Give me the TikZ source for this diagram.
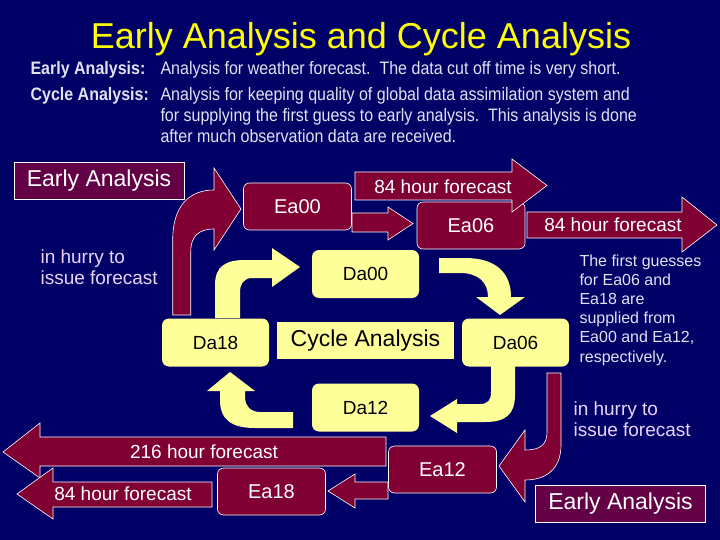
\documentclass[tikz,border=0pt]{standalone}
\usepackage{fontspec}
\setmainfont{Liberation Sans}
\newfontfamily\narrowfont[FakeStretch=0.89]{Liberation Sans}

\definecolor{bgnavy}{RGB}{0,0,102}
\definecolor{eamaroon}{RGB}{128,0,51}
\definecolor{eapurple}{RGB}{100,0,70}
\definecolor{dayellow}{RGB}{255,255,153}
\definecolor{ttlyellow}{RGB}{255,255,0}
\definecolor{hurrypink}{RGB}{235,210,250}
\definecolor{desctext}{RGB}{225,225,240}

\tikzset{
  eabox/.style={draw=white,line width=0.6pt,fill=eamaroon,rounded corners=6pt,
    minimum width=108pt,minimum height=47pt,text=white,font=\fontsize{20}{24}\selectfont},
  dabox/.style={fill=dayellow,rounded corners=7pt,minimum width=107pt,
    minimum height=48pt,font=\fontsize{19}{23}\selectfont},
  ealabel/.style={draw=white,line width=0.6pt,fill=eapurple,minimum width=170pt,
    minimum height=37pt,text=white,font=\fontsize{23}{27}\selectfont},
  fcarrow/.style={draw=white,line width=0.6pt,fill=eamaroon},
  cyarrow/.style={fill=dayellow},
  fctext/.style={text=white,font=\fontsize{19}{23}\selectfont},
  hurry/.style={text=hurrypink,align=left,anchor=west,font=\fontsize{19}{21}\selectfont},
  desc/.style={text=desctext,anchor=base west,font=\narrowfont\fontsize{18}{21}\selectfont},
  descterm/.style={desc,font=\narrowfont\bfseries\fontsize{18}{21}\selectfont}
}

\begin{document}
\begin{tikzpicture}[x=1pt,y=-1pt]
    \fill[bgnavy] (0,0) rectangle (720,540);

    \node (title) at (361,49) [anchor=base,text=ttlyellow,font=\fontsize{36}{40}\selectfont] {Early Analysis and Cycle Analysis};

    \node (eaterm) at (27,75) [descterm] {Early Analysis:};
    \node (eadef) at (157,75) [desc] {Analysis for weather forecast.\ \ The data cut off time is very short.};
    \node (cyterm) at (27,101) [descterm] {Cycle Analysis:};
    \node (cydefA) at (157,101) [desc] {Analysis for keeping quality of global data assimilation system and};
    \node (cydefB) at (157,122) [desc] {for supplying the first guess to early analysis.\ \ This analysis is done};
    \node (cydefC) at (157,143) [desc] {after much observation data are received.};

    % cycle analysis
    \fill[cyarrow] (215,318) -- (215,285) .. controls (215,266) and (226,260) .. (245,260)
      -- (272,260) -- (272,248) -- (300,267) -- (272,287) -- (272,278) -- (252,278)
      .. controls (244,278) and (240,284) .. (240,292) -- (240,318) -- cycle;
    \fill[cyarrow] (439,258) -- (465,258) .. controls (495,258) and (511,272) .. (511,297)
      -- (525,297) -- (500,315) -- (476,297) -- (488,297)
      .. controls (488,282) and (478,273) .. (460,273) -- (439,273) -- cycle;
    \fill[cyarrow] (515,366) -- (515,395) .. controls (515,415) and (505,422) .. (485,422)
      -- (457,422) -- (457,433) -- (430,416) -- (457,399) -- (457,404) -- (480,404)
      .. controls (488,404) and (491,400) .. (491,392) -- (491,366) -- cycle;
    \fill[cyarrow] (220,391) -- (220,400) .. controls (220,420) and (232,428) .. (255,428)
      -- (293,428) -- (293,412) -- (260,412) .. controls (250,412) and (245,405) .. (245,398)
      -- (245,391) -- (255,391) -- (230,372) -- (207,391) -- cycle;

    \node (da00) at (365.5,274) [dabox] {Da00};
    \node (da06) at (515.5,342.5) [dabox] {Da06};
    \node (da12) at (365.5,407.5) [dabox] {Da12};
    \node (da18) at (215.5,342.5) [dabox] {Da18};
    \node (cycle) at (365.5,340.5) [fill=dayellow,minimum width=177pt,minimum height=37pt,
      font=\fontsize{23}{27}\selectfont] {Cycle Analysis};

    % early analysis
    \draw[fcarrow] (172.7,315) -- (172.7,240) .. controls (172.7,205) and (190,190) .. (214,190)
      -- (214,168) -- (241,209) -- (214,250) -- (214,229)
      .. controls (198,229) and (190.7,237) .. (190.7,252) -- (190.7,315) -- cycle;
    \draw[fcarrow] (547,373) -- (561,373) -- (561,445) .. controls (561,470) and (545,480) .. (525,480)
      -- (525,502) -- (499,466) -- (525,430) -- (525,450)
      .. controls (540,450) and (547,445) .. (547,432) -- cycle;

    \node (ea00) at (297.5,206.5) [eabox] {Ea00};
    \node (ea06) at (471,225.5) [eabox] {Ea06};
    \node (ea12) at (442.5,469.5) [eabox] {Ea12};
    \node (ea18) at (271.5,491.5) [eabox] {Ea18};

    \draw[fcarrow] (355,172) -- (512,172) -- (512,159) -- (547,185.5) -- (512,212) -- (512,200)
      -- (355,200) -- cycle;
    \draw[fcarrow] (352,213) -- (388,213) -- (388,207) -- (413,223.5) -- (388,240) -- (388,232)
      -- (352,232) -- cycle;
    \draw[fcarrow] (527,212) -- (682,212) -- (682,197) -- (717,225) -- (682,252) -- (682,238)
      -- (527,238) -- cycle;
    \draw[fcarrow] (386,437) -- (40,437) -- (40,423) -- (3,452) -- (40,478) -- (40,466)
      -- (386,466) -- cycle;
    \draw[fcarrow] (212,482) -- (53,482) -- (53,468) -- (17,494) -- (53,519) -- (53,507)
      -- (212,507) -- cycle;
    \draw[fcarrow] (388,482) -- (355,482) -- (355,474) -- (328,491) -- (355,508) -- (355,499)
      -- (388,499) -- cycle;

    \node (fcA) at (443,187) [fctext] {84 hour forecast};
    \node (fcB) at (613,225) [fctext] {84 hour forecast};
    \node (fcC) at (204,452) [fctext] {216 hour forecast};
    \node (fcD) at (123,494) [fctext] {84 hour forecast};

    \node (earlyL) at (99,180.5) [ealabel] {Early Analysis};
    \node (earlyR) at (620.5,503.5) [ealabel] {Early Analysis};

    \node (hurryL) at (37,267.5) [hurry] {in hurry to\\issue forecast};
    \node (hurryR) at (570,419.5) [hurry] {in hurry to\\issue forecast};

    \node (guess) at (576,310) [anchor=west,align=left,text=desctext,
      font=\fontsize{16}{19.2}\selectfont] {The first guesses\\for Ea06 and\\Ea18 are\\supplied from\\Ea00 and Ea12,\\respectively.};
\end{tikzpicture}
\end{document}
